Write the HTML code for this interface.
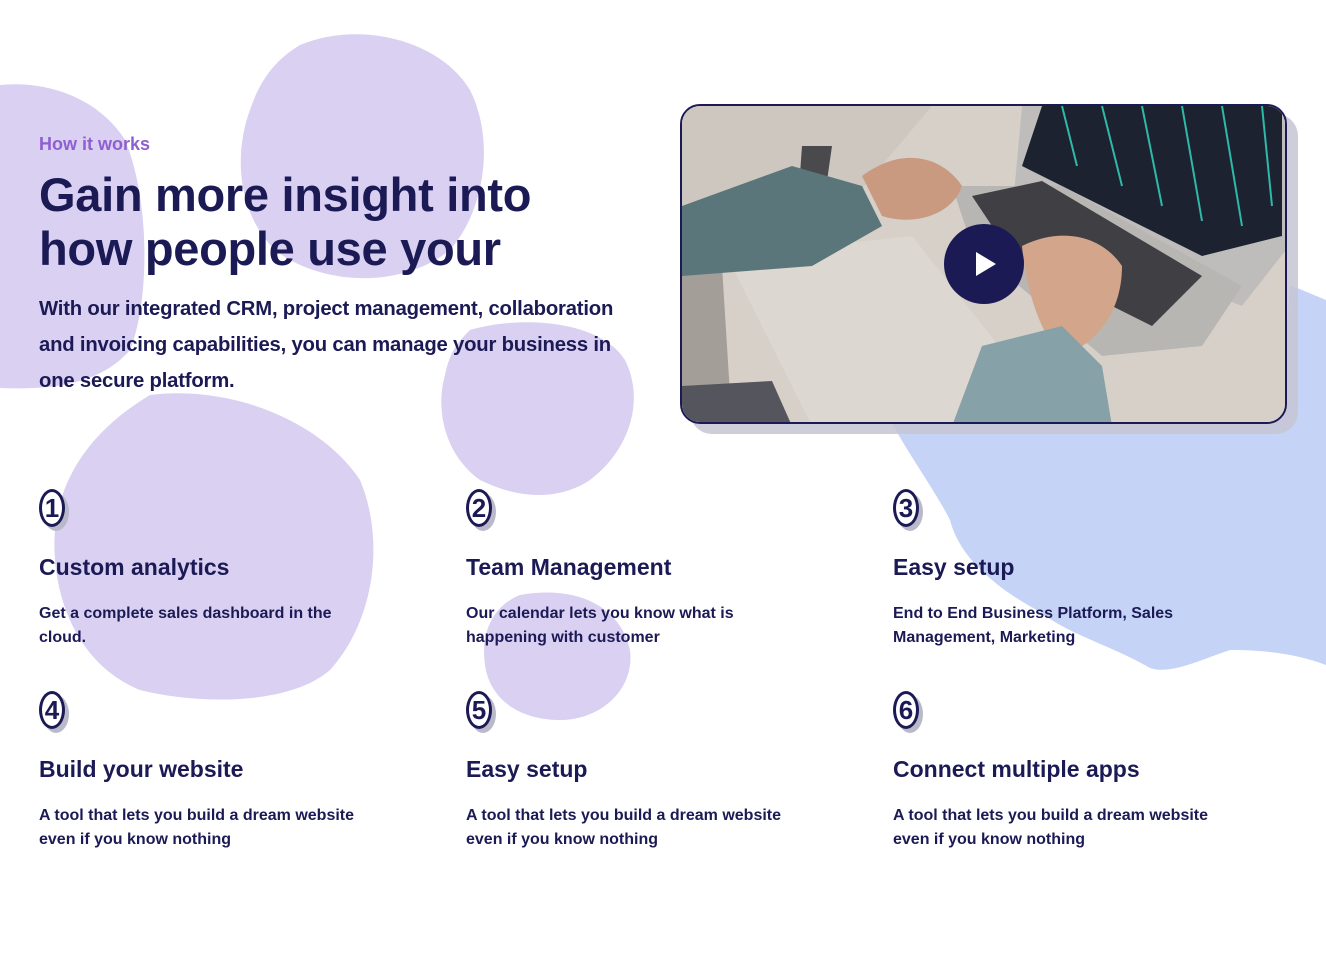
<!DOCTYPE html>
<html><head><meta charset="utf-8"><style>
*{margin:0;padding:0;box-sizing:border-box}
body{width:1326px;height:956px;background:#fff;position:relative;overflow:hidden;font-family:"Liberation Sans",sans-serif;color:#1b1a55}
.abs{position:absolute}
.lbl{left:39px;top:134px;font-size:18px;font-weight:bold;color:#8e5fd1}
h1{position:absolute;left:39px;top:168px;font-size:47px;line-height:54px;font-weight:bold;letter-spacing:-0.3px}
.lead{left:39px;top:291px;width:600px;font-size:20.3px;line-height:36px;font-weight:bold;letter-spacing:-0.2px}
.num{position:absolute;width:26px;height:38px;border:3px solid #1b1a55;border-radius:50%;background:#fff;box-shadow:4px 4px 0 #b9b9c9;font-weight:bold;font-size:26px;line-height:32px;text-align:center;color:#1b1a55}
.t{position:absolute;font-size:23px;font-weight:bold}
.d{position:absolute;font-size:16px;line-height:24px;font-weight:bold;width:340px}
</style></head><body>
<svg class="abs" style="left:0;top:0" width="1326" height="956">
<path d="M0,85 C50,80 100,100 125,140 C150,200 150,300 130,350 C100,385 50,390 0,388 Z" fill="#d9d0f2"/>
<path d="M300,45 C360,20 440,40 470,90 C495,140 485,210 450,250 C400,290 320,285 275,250 C235,210 235,150 250,110 C260,80 275,60 300,45 Z" fill="#d9d0f2"/>
<path d="M470,330 C520,315 600,320 625,360 C645,400 630,450 590,480 C560,500 520,500 480,480 C445,455 435,410 445,375 C450,350 460,340 470,330 Z" fill="#d9d0f2"/>
<path d="M150,395 C230,385 320,420 360,480 C385,540 375,620 330,670 C290,705 200,705 140,690 C90,670 60,620 55,560 C50,500 75,440 150,395 Z" fill="#d9d0f2"/>
<path d="M520,595 C575,585 620,605 630,650 C635,690 600,720 560,720 C520,720 490,700 485,665 C480,630 495,605 520,595 Z" fill="#d9d0f2"/>
<path d="M885,410 L1280,410 L1290,285 L1326,300 L1326,665 C1300,655 1270,650 1230,650 C1200,660 1170,675 1150,668 C1110,645 1070,635 1040,612 C1000,590 960,560 950,520 C935,490 905,450 885,410 Z" fill="#c5d3f6"/>
</svg>
<div class="abs lbl">How it works</div>
<h1>Gain more insight into<br>how people use your</h1>
<div class="abs lead">With our integrated CRM, project management, collaboration and invoicing capabilities, you can manage your business in one secure platform.</div>

<div class="abs" style="left:690px;top:114px;width:608px;height:320px;border-radius:22px;background:#c5c6d3;opacity:.85"></div>
<div class="abs" style="left:680px;top:104px;width:607px;height:320px;border:2px solid #1b1a55;border-radius:20px;overflow:hidden;background:#cfc9c1">
<svg width="607" height="320" style="display:block">
<rect width="607" height="320" fill="#d6d0c8"/>
<polygon points="0,0 250,0 140,130 0,150" fill="#cdc7bf"/>
<polygon points="45,150 230,130 380,320 130,320" fill="#dcd7d0"/>
<polygon points="0,170 40,160 50,320 0,320" fill="#a39e98"/>
<polygon points="0,280 90,275 110,320 0,320" fill="#55555e"/>
<polygon points="120,40 150,40 140,110 115,110" fill="#4a4a4e"/>
<polygon points="340,0 607,0 607,140 560,200 330,110" fill="#bfbdbc"/>
<polygon points="360,0 600,0 600,130 520,150 340,60" fill="#1d2230"/>
<g stroke="#2fb9a8" stroke-width="2">
<line x1="380" y1="0" x2="395" y2="60"/><line x1="420" y1="0" x2="440" y2="80"/><line x1="460" y1="0" x2="480" y2="100"/><line x1="500" y1="0" x2="520" y2="115"/><line x1="540" y1="0" x2="560" y2="120"/><line x1="580" y1="0" x2="590" y2="100"/></g>
<polygon points="270,80 380,80 560,180 520,240 420,250 290,140" fill="#b8b6b3"/>
<polygon points="290,90 360,75 520,170 470,220 330,150" fill="#3f3f44"/>
<polygon points="0,100 110,60 180,80 200,120 130,160 0,170" fill="#5a767a"/>
<path d="M180,70 C220,40 260,50 280,80 C270,110 230,120 200,110 Z" fill="#c99a80"/>
<path d="M340,140 C380,120 420,130 440,160 C440,210 410,240 380,250 C360,230 345,190 340,140 Z" fill="#d3a68c"/>
<polygon points="300,240 380,220 420,260 430,320 270,320" fill="#86a1a7"/>
</svg>
<div class="abs" style="left:262px;top:118px;width:80px;height:80px;border-radius:50%;background:#1b1a55"></div>
<div class="abs" style="left:294px;top:146px;width:0;height:0;border-left:20px solid #fff;border-top:12px solid transparent;border-bottom:12px solid transparent"></div>
</div>

<div class="num" style="left:39px;top:489px">1</div>
<div class="t" style="left:39px;top:554px">Custom analytics</div>
<div class="d" style="left:39px;top:602px;width:320px">Get a complete sales dashboard in the cloud.</div>
<div class="num" style="left:466px;top:489px">2</div>
<div class="t" style="left:466px;top:554px">Team Management</div>
<div class="d" style="left:466px;top:602px;width:300px">Our calendar lets you know what is happening with customer</div>
<div class="num" style="left:893px;top:489px">3</div>
<div class="t" style="left:893px;top:554px">Easy setup</div>
<div class="d" style="left:893px;top:602px;width:300px">End to End Business Platform, Sales Management, Marketing</div>
<div class="num" style="left:39px;top:691px">4</div>
<div class="t" style="left:39px;top:756px">Build your website</div>
<div class="d" style="left:39px;top:804px">A tool that lets you build a dream website even if you know nothing</div>
<div class="num" style="left:466px;top:691px">5</div>
<div class="t" style="left:466px;top:756px">Easy setup</div>
<div class="d" style="left:466px;top:804px">A tool that lets you build a dream website even if you know nothing</div>
<div class="num" style="left:893px;top:691px">6</div>
<div class="t" style="left:893px;top:756px">Connect multiple apps</div>
<div class="d" style="left:893px;top:804px">A tool that lets you build a dream website even if you know nothing</div>
</body></html>
